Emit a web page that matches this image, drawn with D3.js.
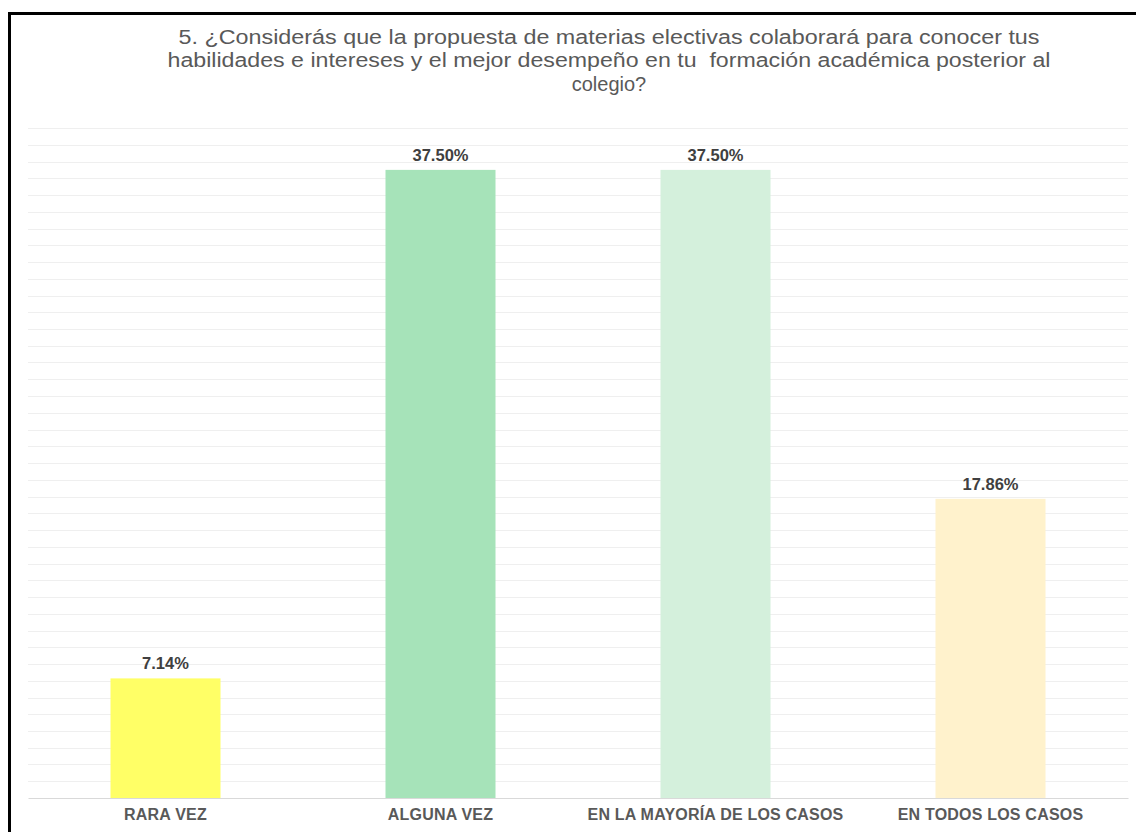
<!DOCTYPE html>
<html>
<head>
<meta charset="utf-8">
<script src="https://cdn.jsdelivr.net/npm/d3@7"></script>
<style>
html,body{margin:0;padding:0;background:#fff;}
svg{display:block;}
</style>
</head>
<body>
<svg id="chart" width="1136" height="832"></svg>
<script>
const categories = ["RARA VEZ", "ALGUNA VEZ", "EN LA MAYORÍA DE LOS CASOS", "EN TODOS LOS CASOS"];
const values = [7.14, 37.50, 37.50, 17.86];
const valueLabels = ["7.14%", "37.50%", "37.50%", "17.86%"];
const barColors = ["#FFFF66", "#A6E3B9", "#D4F0DC", "#FFF2CC"];
const titleLines = [
  "5. ¿Considerás que la propuesta de materias electivas colaborará para conocer tus",
  "habilidades e intereses y el mejor desempeño en tu  formación académica posterior al",
  "colegio?"
];
const yMax = 40;
const gridStep = 1;

const svg = d3.select("#chart");
const W = 1136, H = 832;
const plot = {left: 28, right: 1128, top: 128, bottom: 798};

svg.append("rect").attr("width", W).attr("height", H).attr("fill", "#fff");

const x = d3.scaleBand().domain(categories).range([plot.left, plot.right])
  .paddingInner(0.6).paddingOuter(0.3);
const y = d3.scaleLinear().domain([0, yMax]).range([plot.bottom, plot.top]);

// gridlines
const gridVals = d3.range(gridStep, yMax + gridStep / 2, gridStep);
svg.append("g").selectAll("line").data(gridVals).join("line")
  .attr("x1", plot.left).attr("x2", plot.right)
  .attr("y1", d => Math.round(y(d)) + 0.5).attr("y2", d => Math.round(y(d)) + 0.5)
  .attr("stroke", "#EFEFEF").attr("stroke-width", 1);

// bars
svg.append("g").selectAll("rect").data(values).join("rect")
  .attr("x", (d, i) => x(categories[i]))
  .attr("width", x.bandwidth())
  .attr("y", d => y(d))
  .attr("height", d => y(0) - y(d))
  .attr("fill", (d, i) => barColors[i]);

// x axis
const xAxis = svg.append("g").attr("transform", `translate(0,${plot.bottom})`)
  .call(d3.axisBottom(x).tickSize(0).tickPadding(11));
xAxis.select(".domain").attr("stroke", "#D9D9D9").attr("stroke-width", 1.2);
xAxis.selectAll("text")
  .attr("font-family", "'Liberation Sans', Arial, sans-serif")
  .attr("font-size", "16px").attr("font-weight", "bold")
  .attr("fill", "#595959").attr("letter-spacing", "0.2px");

// value labels
svg.append("g").selectAll("text").data(values).join("text")
  .attr("x", (d, i) => x(categories[i]) + x.bandwidth() / 2)
  .attr("y", d => y(d) - 9)
  .attr("text-anchor", "middle")
  .attr("font-family", "'Liberation Sans', Arial, sans-serif")
  .attr("font-size", "16.5px").attr("font-weight", "bold")
  .attr("fill", "#404040")
  .text((d, i) => valueLabels[i]);

// title
const titleY = [44, 67, 91];
const titleLen = [861, 883, null];
const tg = svg.append("g");
titleLines.forEach((t, i) => {
  const el = tg.append("text")
    .attr("x", 609).attr("y", titleY[i])
    .attr("text-anchor", "middle")
    .attr("font-family", "'Liberation Sans', Arial, sans-serif")
    .attr("font-size", "20px").attr("fill", "#595959")
    .attr("xml:space", "preserve")
    .text(t);
  if (titleLen[i]) el.attr("textLength", titleLen[i]).attr("lengthAdjust", "spacingAndGlyphs");
});

// frame
svg.append("line").attr("x1", 8).attr("x2", W).attr("y1", 13.5).attr("y2", 13.5)
  .attr("stroke", "#000").attr("stroke-width", 3);
svg.append("line").attr("x1", 9.5).attr("x2", 9.5).attr("y1", 12).attr("y2", H)
  .attr("stroke", "#000").attr("stroke-width", 3);
</script>
</body>
</html>
